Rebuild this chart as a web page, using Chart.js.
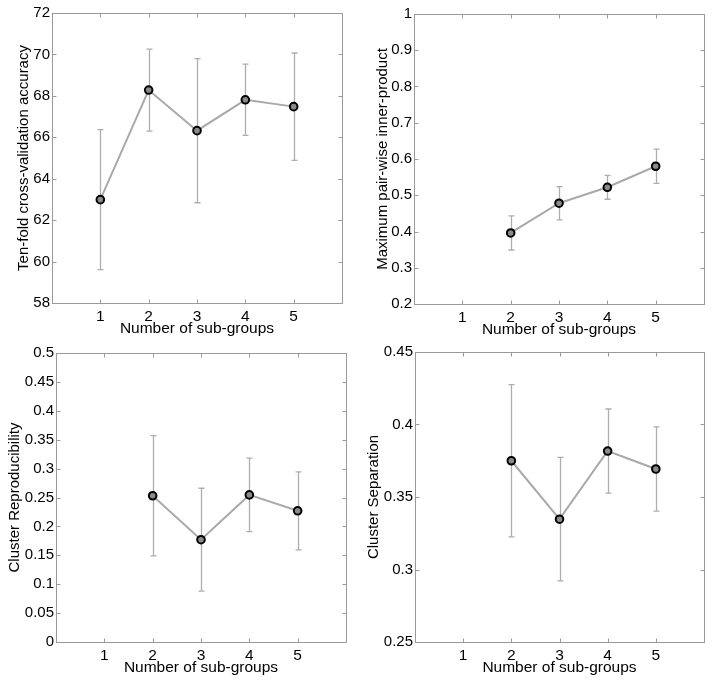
<!DOCTYPE html>
<html><head><meta charset="utf-8">
<script src="https://cdn.jsdelivr.net/npm/chart.js@4"></script>
<style>
html,body{margin:0;padding:0;background:#fff;}
#wrap{position:relative;width:714px;height:683px;background:#fff;}
.p{position:absolute;}
</style></head><body><div id="wrap"></div>
<script>
// ---- data ----
const groupsAll = [1, 2, 3, 4, 5];
const groupsMulti = [2, 3, 4, 5];
const xTickValues = [1, 2, 3, 4, 5];

const accuracy = [62.99, 68.28, 66.32, 67.81, 67.48];
const accuracyErr = [3.38, 1.98, 3.48, 1.72, 2.59];
const accuracyTicks = [58, 60, 62, 64, 66, 68, 70, 72];

const innerProduct = [0.396, 0.478, 0.522, 0.580];
const innerProductErr = [0.047, 0.046, 0.033, 0.047];
const innerProductTicks = [0.2, 0.3, 0.4, 0.5, 0.6, 0.7, 0.8, 0.9, 1.0];

const reproducibility = [0.253, 0.177, 0.2545, 0.227];
const reproducibilityErr = [0.104, 0.089, 0.0635, 0.0675];
const reproducibilityTicks = [0, 0.05, 0.1, 0.15, 0.2, 0.25, 0.3, 0.35, 0.4, 0.45, 0.5];

const separation = [0.375, 0.3347, 0.3817, 0.3693];
const separationErr = [0.0525, 0.0426, 0.029, 0.029];
const separationTicks = [0.25, 0.3, 0.35, 0.4, 0.45];

const xTitle = 'Number of sub-groups';

// ---- panels ----
const panels = [
  {x: groupsAll, y: accuracy, err: accuracyErr, ticks: accuracyTicks, title: 'Ten-fold cross-validation accuracy',
   L: 0, T: 0, W: 357, H: 341, padTop: 13, padRight: 15, yW: 52, yTitlePad: 14.5},
  {x: groupsMulti, y: innerProduct, err: innerProductErr, ticks: innerProductTicks, title: 'Maximum pair-wise inner-product',
   L: 357, T: 0, W: 357, H: 342, padTop: 14, padRight: 10, yW: 57, yTitlePad: 16.5},
  {x: groupsMulti, y: reproducibility, err: reproducibilityErr, ticks: reproducibilityTicks, title: 'Cluster Reproducibility',
   L: 0, T: 341, W: 357, H: 339, padTop: 12, padRight: 11, yW: 56, yTitlePad: 6},
  {x: groupsMulti, y: separation, err: separationErr, ticks: separationTicks, title: 'Cluster Separation',
   L: 357, T: 341, W: 357, H: 339, padTop: 11, padRight: 10, yW: 58, yTitlePad: 8}
];

const FONT = {family: '"Liberation Sans", Arial, Helvetica, sans-serif', size: 15};
const XFONT = {family: '"Liberation Sans", Arial, Helvetica, sans-serif', size: 15.5};
const X_AXIS_H = 38;

const framePlugin = {
  id: 'frame',
  beforeDatasetsDraw(chart) {
    const {ctx} = chart;
    const xs = chart.scales.x, ys = chart.scales.y;
    const ds = chart.data.datasets[0];
    const errs = chart.options.plugins.frame.errors;
    ctx.save();
    ctx.strokeStyle = '#adadad';
    ctx.lineWidth = 1.3;
    ds.data.forEach((p, i) => {
      const x = Math.round(xs.getPixelForValue(p.x)) + 0.5;
      const y1 = ys.getPixelForValue(p.y + errs[i]);
      const y2 = ys.getPixelForValue(p.y - errs[i]);
      ctx.beginPath();
      ctx.moveTo(x, y1); ctx.lineTo(x, y2);
      ctx.moveTo(x - 3, y1); ctx.lineTo(x + 3, y1);
      ctx.moveTo(x - 3, y2); ctx.lineTo(x + 3, y2);
      ctx.stroke();
    });
    ctx.restore();
  },
  afterDraw(chart) {
    const {ctx, chartArea: a} = chart;
    const xs = chart.scales.x, ys = chart.scales.y;
    const l = Math.round(a.left) + 0.5, r = Math.round(a.right) + 0.5;
    const t = Math.round(a.top) + 0.5, b = Math.round(a.bottom) + 0.5;
    ctx.save();
    ctx.strokeStyle = '#9a9a9a';
    ctx.lineWidth = 1;
    ctx.strokeRect(l, t, r - l, b - t);
    const len = 4;
    ctx.beginPath();
    xs.ticks.forEach(tk => {
      const x = Math.round(xs.getPixelForValue(tk.value)) + 0.5;
      ctx.moveTo(x, b); ctx.lineTo(x, b - len);
      ctx.moveTo(x, t); ctx.lineTo(x, t + len);
    });
    ys.ticks.forEach(tk => {
      const y = Math.round(ys.getPixelForValue(tk.value)) + 0.5;
      ctx.moveTo(l, y); ctx.lineTo(l + len, y);
      ctx.moveTo(r, y); ctx.lineTo(r - len, y);
    });
    ctx.stroke();
    ctx.restore();
  }
};

const wrap = document.getElementById('wrap');
panels.forEach(p => {
  const div = document.createElement('div');
  div.className = 'p';
  div.style.left = p.L + 'px'; div.style.top = p.T + 'px';
  div.style.width = p.W + 'px'; div.style.height = p.H + 'px';
  const cv = document.createElement('canvas');
  div.appendChild(cv);
  wrap.appendChild(div);
  new Chart(cv, {
    type: 'line',
    data: {
      datasets: [{
        data: p.x.map((g, i) => ({x: g, y: p.y[i]})),
        borderColor: '#a9a9a9',
        borderWidth: 2,
        pointRadius: 3.8,
        pointBorderWidth: 2,
        pointBorderColor: '#000',
        pointBackgroundColor: '#8a8a8a',
        tension: 0
      }]
    },
    options: {
      responsive: true,
      maintainAspectRatio: false,
      animation: false,
      events: [],
      layout: {padding: {top: p.padTop, right: p.padRight, left: 0, bottom: 0}},
      plugins: {
        legend: {display: false},
        tooltip: {enabled: false},
        frame: {errors: p.err}
      },
      scales: {
        x: {
          type: 'linear', min: 0, max: 6,
          grid: {display: false, drawTicks: false},
          border: {display: false},
          afterBuildTicks: s => { s.ticks = xTickValues.map(v => ({value: v})); },
          afterFit: s => { s.height = X_AXIS_H; },
          ticks: {color: '#000', font: XFONT, padding: 4, maxRotation: 0, autoSkip: false,
                  callback: v => String(v)},
          title: {display: true, text: xTitle, color: '#000', font: XFONT, padding: {top: 0, bottom: 3}}
        },
        y: {
          type: 'linear', min: p.ticks[0], max: p.ticks[p.ticks.length - 1],
          grid: {display: false, drawTicks: false},
          border: {display: false},
          afterBuildTicks: s => { s.ticks = p.ticks.map(v => ({value: v})); },
          afterFit: s => { s.width = p.yW; },
          ticks: {color: '#000', font: FONT, padding: 2, autoSkip: false,
                  callback: v => String(+Number(v).toFixed(2))},
          title: {display: true, text: p.title, color: '#000', font: FONT, padding: {top: p.yTitlePad, bottom: 0}}
        }
      }
    },
    plugins: [framePlugin]
  });
});
</script>
</body></html>
